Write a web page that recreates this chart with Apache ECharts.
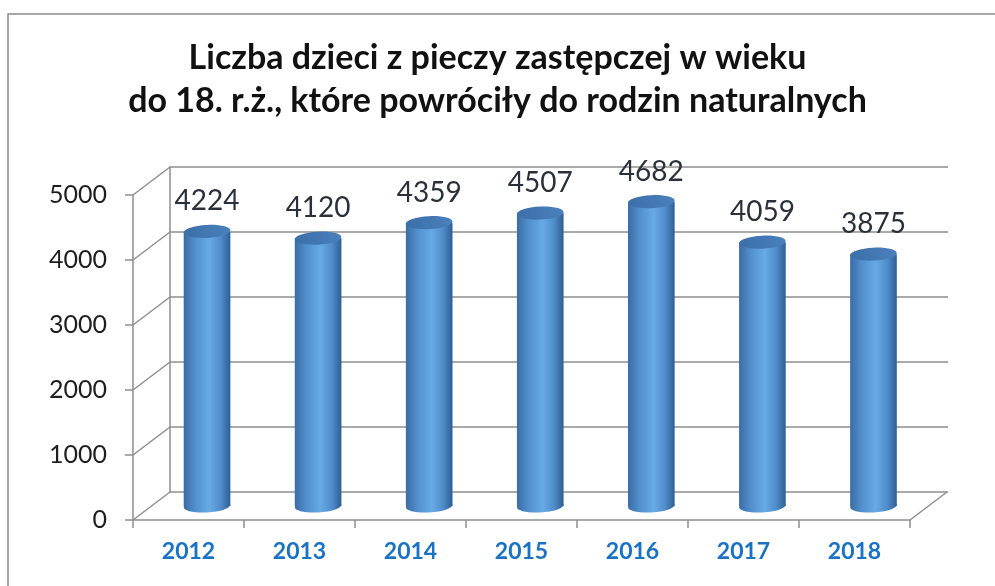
<!DOCTYPE html>
<html>
<head>
<meta charset="utf-8">
<script src="https://cdn.jsdelivr.net/npm/echarts@6/dist/echarts.min.js"></script>
<style>
html,body{margin:0;padding:0;background:#fff;}
#chart{width:995px;height:586px;}
</style>
</head>
<body>
<div id="chart"></div>
<script>
// ---- data ----
const years = ['2012', '2013', '2014', '2015', '2016', '2017', '2018'];
const values = [4224, 4120, 4359, 4507, 4682, 4059, 3875];
const yTicks = [0, 1000, 2000, 3000, 4000, 5000];
const titleLines = ['Liczba dzieci z pieczy zastępczej w wieku', 'do 18. r.ż., które powróciły do rodzin naturalnych'];

// ---- style constants ----
const DEPTH_X = 37, DEPTH_Y = -28;
const GRID_COLOR = '#8e8e8e';
const FONT = 'Lato, "Open Sans", sans-serif';

const chart = echarts.init(document.getElementById('chart'), null, {renderer: 'canvas'});

const bodyGrad = new echarts.graphic.LinearGradient(0, 0, 1, 0, [
  {offset: 0, color: '#3b6ca6'},
  {offset: 0.25, color: '#5190cd'},
  {offset: 0.55, color: '#67aae6'},
  {offset: 0.8, color: '#4f8bc9'},
  {offset: 1, color: '#2f5e95'}
]);
const topGrad = new echarts.graphic.LinearGradient(0, 0, 1, 0, [
  {offset: 0, color: '#3c6fa8'},
  {offset: 1, color: '#4a80bd'}
]);

function renderCylinder(params, api) {
  const i = api.value(0), v = api.value(1);
  const top = api.coord([i, v]);
  const base = api.coord([i, 0]);
  const w = api.size([1, 0])[0] * 0.42;
  const rx = w / 2, ry = 6.5;
  return {
    type: 'group',
    children: [
      {type: 'ellipse', shape: {cx: base[0], cy: base[1], rx: rx, ry: ry},
       rotation: 0.05, originX: base[0], originY: base[1], style: {fill: bodyGrad}},
      {type: 'rect', shape: {x: top[0] - rx, y: top[1], width: w, height: base[1] - top[1]},
       style: {fill: bodyGrad}},
      {type: 'ellipse', shape: {cx: top[0], cy: top[1], rx: rx, ry: ry},
       rotation: 0.05, originX: top[0], originY: top[1], style: {fill: topGrad}},
      {type: 'text', style: {text: String(v), x: top[0], y: top[1] - 30, align: 'center', verticalAlign: 'middle',
        font: '28px ' + FONT, fill: '#2a313b'}}
    ]
  };
}

function renderDiagonals(params, api) {
  const v = api.value(1);
  const halfCat = api.size([1, 0])[0] / 2;
  const p = api.coord([0, v]);
  const x = p[0] - halfCat;
  const children = [
    {type: 'line', shape: {x1: x, y1: p[1], x2: x + DEPTH_X, y2: p[1] + DEPTH_Y},
     style: {stroke: GRID_COLOR, lineWidth: 1.5}}
  ];
  if (v === 0) {
    const q = api.coord([years.length - 1, 0]);
    const xr = q[0] + halfCat;
    children.push({type: 'line', shape: {x1: xr, y1: q[1], x2: xr + DEPTH_X, y2: q[1] + DEPTH_Y},
      style: {stroke: GRID_COLOR, lineWidth: 1.5}});
  }
  return {type: 'group', children: children};
}

const option = {
  backgroundColor: '#fff',
  animation: false,
  title: {
    text: titleLines.join('\n'),
    left: 'center',
    top: 32,
    textStyle: {fontFamily: FONT, fontWeight: 'bold', fontSize: 34, lineHeight: 43, color: '#111', align: 'center'}
  },
  graphic: [
    {type: 'rect', shape: {x: 8, y: 14, width: 1100, height: 700},
     style: {fill: 'none', stroke: '#8a8a8a', lineWidth: 1.5}, silent: true, z: -10}
  ],
  grid: [
    {left: 133, width: 777, top: 195, height: 325},
    {left: 170, width: 778, top: 167, height: 325},
    {left: 151.5, width: 777.5, top: 181, height: 325}
  ],
  xAxis: [
    {gridIndex: 0, type: 'category', data: years,
     axisLine: {lineStyle: {color: GRID_COLOR, width: 1.5}},
     axisTick: {show: true, alignWithLabel: false, length: 8, lineStyle: {color: GRID_COLOR, width: 1.5}},
     axisLabel: {margin: 20, fontFamily: FONT, fontWeight: 'bold', fontSize: 23, color: '#1a72c4'}},
    {gridIndex: 1, type: 'category', data: years, show: false},
    {gridIndex: 2, type: 'category', data: years, show: false}
  ],
  yAxis: [
    {gridIndex: 0, type: 'value', min: 0, max: 5000, interval: 1000,
     axisLine: {show: true, lineStyle: {color: GRID_COLOR, width: 1.5}},
     axisTick: {show: true, length: 8, lineStyle: {color: GRID_COLOR, width: 1.5}},
     axisLabel: {margin: 26, fontFamily: FONT, fontSize: 25, color: '#1e1e1e', formatter: v => String(v)},
     splitLine: {show: false}},
    {gridIndex: 1, type: 'value', min: 0, max: 5000, interval: 1000,
     axisLine: {show: true, lineStyle: {color: GRID_COLOR, width: 1.5}},
     axisTick: {show: false}, axisLabel: {show: false},
     splitLine: {show: true, lineStyle: {color: GRID_COLOR, width: 1.5}}},
    {gridIndex: 2, type: 'value', min: 0, max: 5000, interval: 1000, show: false, splitLine: {show: false}}
  ],
  series: [
    {type: 'custom', xAxisIndex: 0, yAxisIndex: 0, renderItem: renderDiagonals,
     data: yTicks.map(t => [0, t]), z: 1, silent: true},
    {type: 'custom', xAxisIndex: 2, yAxisIndex: 2, renderItem: renderCylinder,
     data: values.map((v, i) => [i, v]), z: 5}
  ]
};
chart.setOption(option);
</script>
</body>
</html>
